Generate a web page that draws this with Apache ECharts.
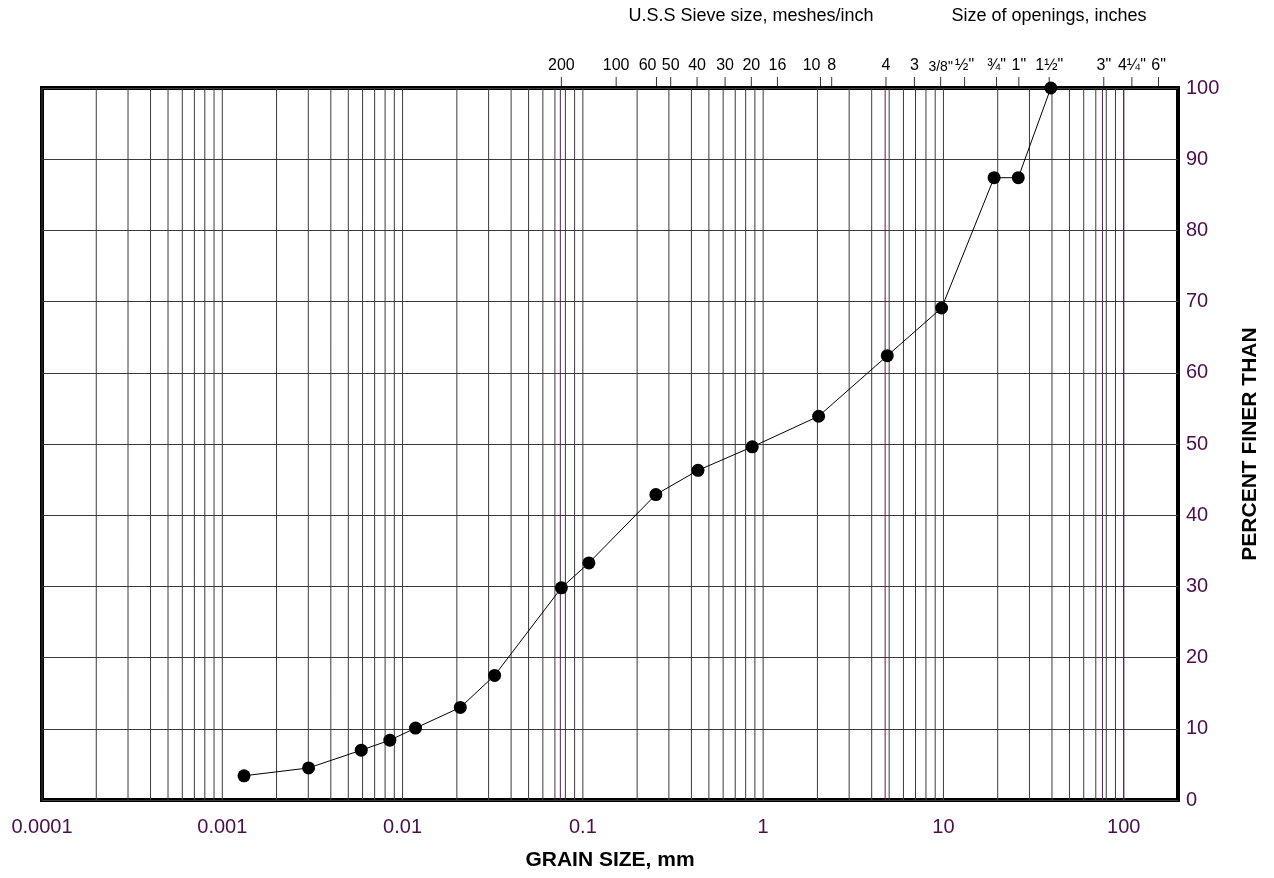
<!DOCTYPE html>
<html>
<head>
<meta charset="utf-8">
<script src="https://cdn.jsdelivr.net/npm/echarts@6/dist/echarts.min.js"></script>
<style>html,body{margin:0;padding:0;background:#fff;}#c{width:1274px;height:878px;}</style>
</head>
<body>
<div id="c"></div>
<script>
// ---- data ----
const grainSize = [0.00132, 0.00301, 0.0059, 0.0085, 0.0118, 0.0209, 0.0324, 0.076, 0.108, 0.254, 0.435, 0.87, 2.03, 4.88, 9.77, 19.1, 26.0, 39.4];
const percentFiner = [3.4, 4.5, 7.0, 8.4, 10.1, 13.0, 17.5, 29.8, 33.3, 42.9, 46.3, 49.6, 53.9, 62.4, 69.1, 87.4, 87.4, 100];
const sieveLabels = ['200','100','60','50','40','30','20','16','10','8','4','3','3/8"','½"','¾"','1"','1½"','3"','4¼"','6"'];
const sieveSizes = [0.076, 0.153, 0.256, 0.307, 0.43, 0.615, 0.86, 1.2, 2.08, 2.4, 4.8, 6.9, 9.65, 13.1, 19.7, 26.2, 38.6, 77.5, 111, 156];
const decades = [0.0001, 0.001, 0.01, 0.1, 1, 10];
const multiples = [1, 2, 3, 4, 5, 6, 7, 8, 9];
const boundaryLines = [0.075, 4.75, 76.2, 100];
const xMin = 0.0001, xMax = 200;
const yMin = 0, yMax = 100, yStep = 10;

const gridValues = [];
decades.forEach(d => multiples.forEach(m => gridValues.push(m * d)));
gridValues.push(100);

// styling
const purple = '#4b0e4b';
const rightAlignedLabels = ['60', '10'];
const FONT = '"Liberation Sans", Arial, sans-serif';

const chart = echarts.init(document.getElementById('c'), null, {renderer: 'canvas'});

function vline(color, width) {
  return function (params, api) {
    const v = api.value(0);
    const p0 = api.coord([v, yMin]);
    const p1 = api.coord([v, yMax]);
    return {type: 'line', shape: {x1: p0[0], y1: p0[1], x2: p1[0], y2: p1[1]},
      style: {stroke: color, lineWidth: width}};
  };
}

chart.setOption({
  animation: false,
  grid: {left: 42, right: 96, top: 88, bottom: 78, show: true, borderColor: '#000', borderWidth: 4,
         backgroundColor: 'transparent', containLabel: false, outerBoundsMode: 'none'},
  xAxis: {
    type: 'log', logBase: 10, min: xMin, max: xMax,
    axisLine: {show: false}, axisTick: {show: false}, splitLine: {show: false},
    minorTick: {show: false}, minorSplitLine: {show: false},
    axisLabel: {
      color: purple, fontSize: 20, fontFamily: FONT, margin: 17,
      showMaxLabel: false,
      formatter: v => (Math.abs(Math.log10(v) - Math.round(Math.log10(v))) < 1e-6) ? String(Number(v.toPrecision(1))) : ''
    },
    name: 'GRAIN SIZE, mm', nameLocation: 'middle', nameGap: 50,
    nameTextStyle: {color: '#000', fontSize: 21, fontWeight: 'bold', fontFamily: FONT}
  },
  yAxis: {
    type: 'value', position: 'right', min: yMin, max: yMax, interval: yStep,
    axisLine: {show: false}, axisTick: {show: false},
    splitLine: {show: true, lineStyle: {color: '#3a3a3a', width: 1}},
    axisLabel: {color: purple, fontSize: 20, fontFamily: FONT, margin: 8},
    name: 'PERCENT FINER THAN', nameLocation: 'middle', nameGap: 62, nameRotate: 90,
    nameTextStyle: {color: '#000', fontSize: 21, fontWeight: 'bold', fontFamily: FONT}
  },
  graphic: [
    {type: 'text', x: 751, y: 16, style: {text: 'U.S.S Sieve size, meshes/inch', fill: '#000', font: '18px ' + FONT, textAlign: 'center', textVerticalAlign: 'middle'}},
    {type: 'text', x: 1049, y: 16, style: {text: 'Size of openings, inches', fill: '#000', font: '18px ' + FONT, textAlign: 'center', textVerticalAlign: 'middle'}}
  ],
  series: [
    {
      type: 'custom', silent: true, z: 1,
      data: gridValues.map(v => [v, 0]),
      renderItem: vline('#3a3a3a', 1)
    },
    {
      type: 'custom', silent: true, z: 2,
      data: boundaryLines.map(v => [v, 0]),
      renderItem: vline('#5a1a5a', 1)
    },
    {
      type: 'custom', silent: true, z: 3, clip: false,
      data: sieveSizes.map((v, i) => [v, yMax, i]),
      renderItem: function (params, api) {
        const i = api.value(2);
        const p = api.coord([api.value(0), yMax]);
        const lab = sieveLabels[i];
        const right = rightAlignedLabels.indexOf(lab) >= 0;
        return {type: 'group', children: [
          {type: 'line', shape: {x1: p[0], y1: p[1] - 2, x2: p[0], y2: p[1] - 11}, style: {stroke: '#333', lineWidth: 1}},
          {type: 'text', x: p[0], y: p[1] - 14, style: {text: lab, fill: '#000',
            font: (lab.indexOf('/') >= 0 ? '14px ' : '16px ') + FONT,
            textAlign: right ? 'right' : 'center', textVerticalAlign: 'bottom'}}
        ]};
      }
    },
    {
      type: 'line', z: 5,
      data: grainSize.map((g, i) => [g, percentFiner[i]]),
      symbol: 'circle', symbolSize: 13,
      lineStyle: {color: '#000', width: 1},
      itemStyle: {color: '#000'}
    }
  ]
});
</script>
</body>
</html>
